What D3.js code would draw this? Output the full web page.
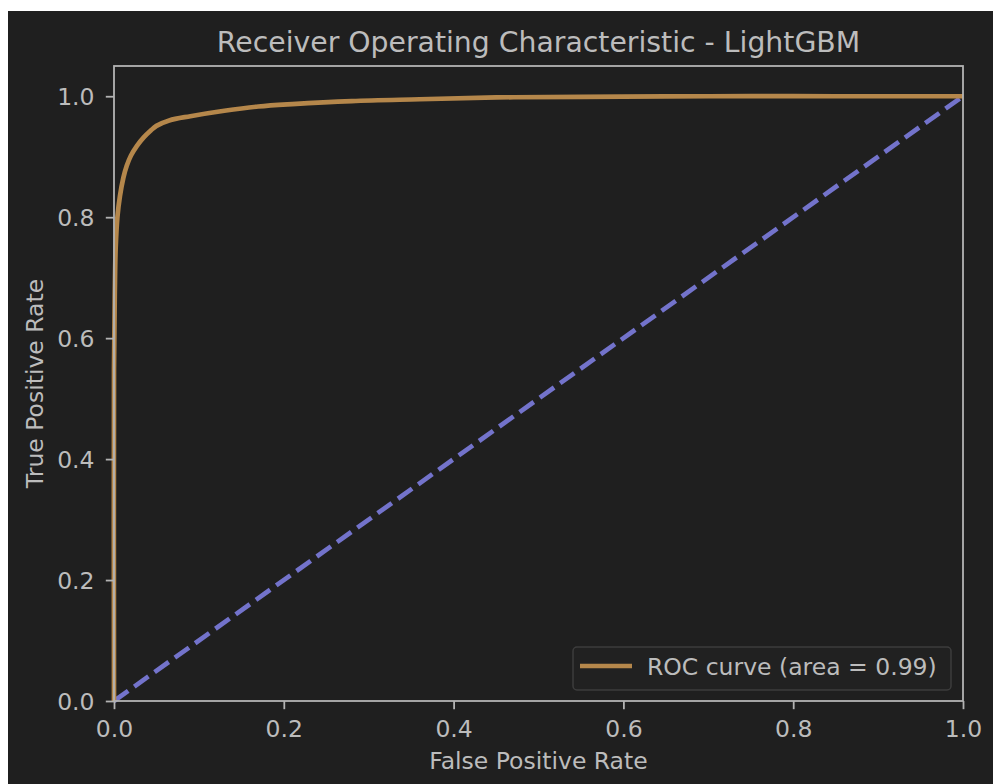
<!DOCTYPE html>
<html><head><meta charset="utf-8">
<script src="https://cdn.jsdelivr.net/npm/d3@7"></script>
<style>
html,body{margin:0;padding:0;background:#ffffff;}
svg{display:block;}
text{font-family:"DejaVu Sans",sans-serif;}
</style></head>
<body>
<script>
const fpr = [0, 0, 0.001, 0.002, 0.004, 0.007, 0.011, 0.015, 0.02, 0.027, 0.035, 0.043, 0.05, 0.065, 0.09, 0.13, 0.17, 0.21, 0.28, 0.36, 0.45, 0.55, 0.7, 0.85, 1.0];
const tpr = [0, 0.55, 0.68, 0.75, 0.80, 0.835, 0.865, 0.885, 0.902, 0.918, 0.932, 0.943, 0.951, 0.96, 0.967, 0.976, 0.983, 0.987, 0.992, 0.995, 0.998, 0.999, 1.0, 1.0, 1.0];
const diagX = [0, 1];
const diagY = [0, 1];
const xTicks = [0, 0.2, 0.4, 0.6, 0.8, 1.0];
const yTicks = [0, 0.2, 0.4, 0.6, 0.8, 1.0];
const titleText = "Receiver Operating Characteristic - LightGBM";
const xLabel = "False Positive Rate";
const yLabel = "True Positive Rate";
const legendLabel = "ROC curve (area = 0.99)";

(function () {
const W = 993, H = 784;
const bg = "#1f1f1f", fg = "#bcbcbc", spine = "#b3b3b3";
const rocColor = "#b5874b", diagColor = "#7373cb";
const mL = 114, mR = 963, mT = 66, mB = 701;
const fs = 23.5, fsTitle = 28.3, lw = 4.7;

const svg = d3.select("body").append("svg").attr("width", W).attr("height", H);
svg.append("rect").attr("x", 8).attr("y", 11).attr("width", W - 8).attr("height", H - 11).attr("fill", bg);

const x = d3.scaleLinear().domain([0, 1]).range([mL, mR]);
const y = d3.scaleLinear().domain([0, 1.05]).range([mB, mT]);

const g = svg.append("g");
const rocData = fpr.map((v, i) => [v, tpr[i]]);

g.append("path").datum(diagX.map((v, i) => [v, diagY[i]]))
  .attr("d", d3.line().x(d => x(d[0])).y(d => y(d[1])))
  .attr("fill", "none").attr("stroke", diagColor).attr("stroke-width", lw)
  .attr("stroke-dasharray", "17.4,7.5");

g.append("path").datum(rocData)
  .attr("d", d3.line().x(d => x(d[0])).y(d => y(d[1])).curve(d3.curveCatmullRom.alpha(0.5)))
  .attr("fill", "none").attr("stroke", rocColor).attr("stroke-width", lw)
  .attr("stroke-linejoin", "round");

g.append("rect").attr("x", mL).attr("y", mT).attr("width", mR - mL).attr("height", mB - mT)
  .attr("fill", "none").attr("stroke", spine).attr("stroke-width", 1.8);

const xAxis = d3.axisBottom(x).tickValues(xTicks).tickFormat(d3.format(".1f")).tickSize(8.2).tickPadding(11.4);
const yAxis = d3.axisLeft(y).tickValues(yTicks).tickFormat(d3.format(".1f")).tickSize(8.2).tickPadding(11.3);
const xa = svg.append("g").attr("transform", `translate(0,${mB})`).call(xAxis);
const ya = svg.append("g").attr("transform", `translate(${mL},0)`).call(yAxis);
[xa, ya].forEach(a => {
  a.select(".domain").remove();
  a.selectAll(".tick line").attr("stroke", spine).attr("stroke-width", 1.8);
  a.selectAll(".tick text").attr("fill", fg).attr("font-size", fs).attr("font-family", "DejaVu Sans");
});
ya.selectAll(".tick text").attr("dy", "0.36em");

svg.append("text").attr("x", (mL + mR) / 2).attr("y", 52).attr("text-anchor", "middle")
  .attr("fill", fg).attr("font-size", fsTitle).text(titleText);
svg.append("text").attr("x", (mL + mR) / 2).attr("y", 769).attr("text-anchor", "middle")
  .attr("fill", fg).attr("font-size", fs).text(xLabel);
svg.append("text").attr("transform", `translate(43,${(mT + mB) / 2}) rotate(-90)`).attr("text-anchor", "middle")
  .attr("fill", fg).attr("font-size", fs).text(yLabel);

const lg = svg.append("g");
lg.append("rect").attr("x", 573).attr("y", 647).attr("width", 378).attr("height", 43).attr("rx", 4)
  .attr("fill", "#212121").attr("stroke", "#3d3d3d").attr("stroke-width", 1.5);
lg.append("line").attr("x1", 580).attr("x2", 632).attr("y1", 666).attr("y2", 666)
  .attr("stroke", rocColor).attr("stroke-width", lw);
lg.append("text").attr("x", 647).attr("y", 675).attr("fill", fg).attr("font-size", fs).text(legendLabel);
})();
</script>
</body></html>
